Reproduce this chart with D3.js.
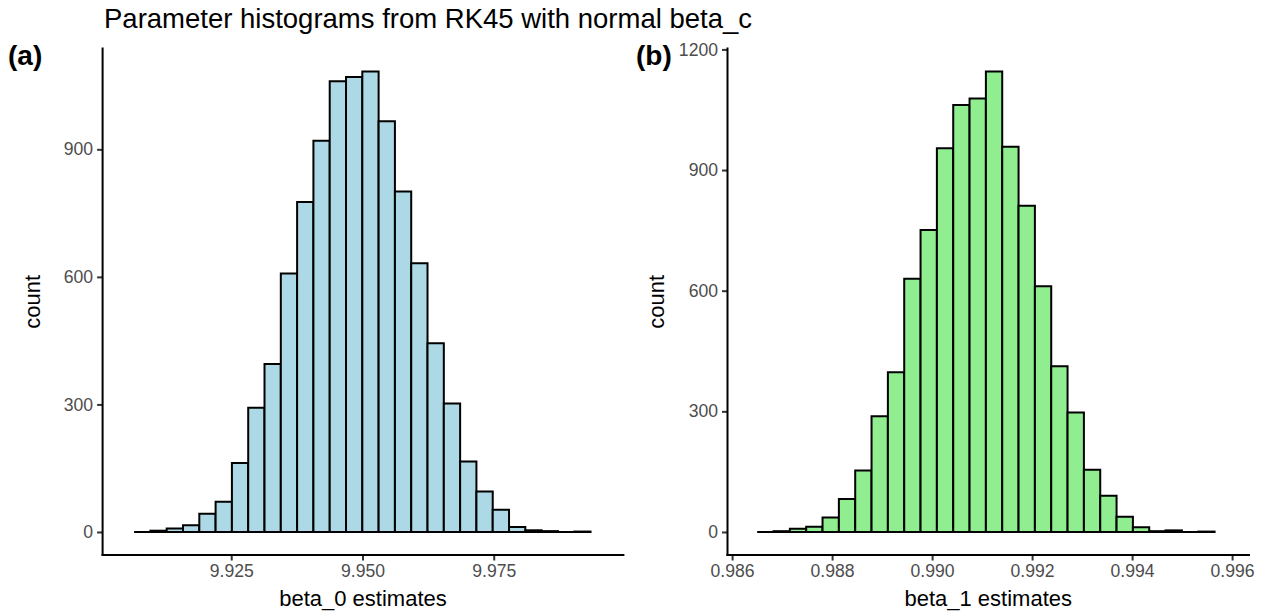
<!DOCTYPE html>
<html>
<head>
<meta charset="utf-8">
<script src="https://cdn.jsdelivr.net/npm/d3@7"></script>
<style>
  body { margin: 0; background: #fff; }
  text { font-family: "Liberation Sans", Arial, sans-serif; }
</style>
</head>
<body>
<div id="chart"></div>
<script>
// data
// =================================
var titleText = "Parameter histograms from RK45 with normal beta_c";

// panel (a): beta_0 estimates, 28 bins
var countsA = [0, 3, 8, 16, 43, 71, 162, 292, 395, 608, 776, 920, 1060, 1070,
  1083, 966, 801, 632, 444, 302, 166, 95, 52, 12, 4, 2, 0, 1];
var binStartA = 9.9065;
var binWidthA = 0.003105;
var xDomainA = [9.9005, 9.9997];
var xTicksA = [9.925, 9.950, 9.975];
var yTicksA = [0, 300, 600, 900];

// panel (b): beta_1 estimates, 28 bins
var countsB = [0, 2, 8, 13, 36, 82, 153, 288, 397, 630, 751, 954, 1062, 1078,
  1145, 958, 811, 611, 412, 297, 155, 90, 38, 12, 2, 4, 0, 1];
var binStartB = 0.986502;
var binWidthB = 0.0003267;
var xDomainB = [0.985908, 0.996338];
var xTicksB = [0.986, 0.988, 0.990, 0.992, 0.994, 0.996];
var yTicksB = [0, 300, 600, 900, 1200];

var svgWidth = 1267;
var svgHeight = 616;

var svg = d3.select("#chart")
  .append("svg")
  .attr("width", svgWidth)
  .attr("height", svgHeight);

svg.append("text")
  .attr("x", 104)
  .attr("y", 28)
  .attr("font-size", "27.5px")
  .attr("fill", "#000")
  .text(titleText);

function drawPanel(opts) {
  var bins = opts.counts.map(function(c, i) {
    return { x0: opts.binStart + i * opts.binWidth, x1: opts.binStart + (i + 1) * opts.binWidth, n: c };
  });
  var yMax = d3.max(opts.counts);

  var x = d3.scaleLinear().domain(opts.xDomain).range([opts.left, opts.right]);
  var y = d3.scaleLinear().domain([-0.05 * yMax, 1.05 * yMax]).range([opts.bottom, opts.top]);

  var g = svg.append("g");

  // bars as closed paths so empty bins still show their outline
  g.selectAll("path.bar")
    .data(bins)
    .enter()
    .append("path")
    .attr("class", "bar")
    .attr("d", function(d) {
      var x0 = x(d.x0), x1 = x(d.x1), y0 = y(0), y1 = y(d.n);
      return "M" + x0 + "," + y0 + "L" + x0 + "," + y1 + "L" + x1 + "," + y1 + "L" + x1 + "," + y0 + "Z";
    })
    .attr("fill", opts.fill)
    .attr("stroke", "#000")
    .attr("stroke-width", 2)
    .attr("stroke-linejoin", "miter");

  // axes
  var bottomAxis = d3.axisBottom(x)
    .tickValues(opts.xTicks)
    .tickFormat(d3.format(".3f"))
    .tickSize(5.5)
    .tickPadding(4);
  var leftAxis = d3.axisLeft(y)
    .tickValues(opts.yTicks)
    .tickFormat(d3.format("d"))
    .tickSize(5.5)
    .tickPadding(4);

  var xg = g.append("g")
    .attr("transform", "translate(0," + opts.bottom + ")")
    .call(bottomAxis);
  var yg = g.append("g")
    .attr("transform", "translate(" + opts.left + ",0)")
    .call(leftAxis);

  [xg, yg].forEach(function(ax) {
    ax.select(".domain").remove();
    ax.selectAll(".tick line").attr("stroke", "#333").attr("stroke-width", 2);
    ax.selectAll(".tick text")
      .attr("fill", "#4d4d4d")
      .attr("font-size", "17.6px")
      .attr("font-family", "Liberation Sans, Arial, sans-serif");
  });

  // axis lines (theme_classic)
  g.append("line")
    .attr("x1", opts.left).attr("x2", opts.right)
    .attr("y1", opts.bottom).attr("y2", opts.bottom)
    .attr("stroke", "#000").attr("stroke-width", 2).attr("stroke-linecap", "square");
  g.append("line")
    .attr("x1", opts.left).attr("x2", opts.left)
    .attr("y1", opts.top).attr("y2", opts.bottom)
    .attr("stroke", "#000").attr("stroke-width", 2).attr("stroke-linecap", "square");

  // axis labels
  g.append("text")
    .attr("x", (opts.left + opts.right) / 2)
    .attr("y", 606)
    .attr("text-anchor", "middle")
    .attr("font-size", "22px")
    .text(opts.xLabel);

  g.append("text")
    .attr("transform", "translate(" + opts.yLabelX + "," + (opts.top + opts.bottom) / 2 + ") rotate(-90)")
    .attr("text-anchor", "middle")
    .attr("font-size", "22px")
    .text("count");

  // panel tag
  g.append("text")
    .attr("x", opts.tagX)
    .attr("y", 65)
    .attr("font-size", "28px")
    .attr("font-weight", "bold")
    .text(opts.tag);
}

drawPanel({
  counts: countsA, binStart: binStartA, binWidth: binWidthA,
  xDomain: xDomainA, xTicks: xTicksA, yTicks: yTicksA,
  left: 102.6, right: 623.4, top: 48.5, bottom: 555,
  fill: "#add8e6", xLabel: "beta_0 estimates", yLabelX: 40, tag: "(a)", tagX: 8
});

drawPanel({
  counts: countsB, binStart: binStartB, binWidth: binWidthB,
  xDomain: xDomainB, xTicks: xTicksB, yTicks: yTicksB,
  left: 727.5, right: 1249, top: 48.5, bottom: 555,
  fill: "#90ee90", xLabel: "beta_1 estimates", yLabelX: 664, tag: "(b)", tagX: 636
});
</script>
</body>
</html>
